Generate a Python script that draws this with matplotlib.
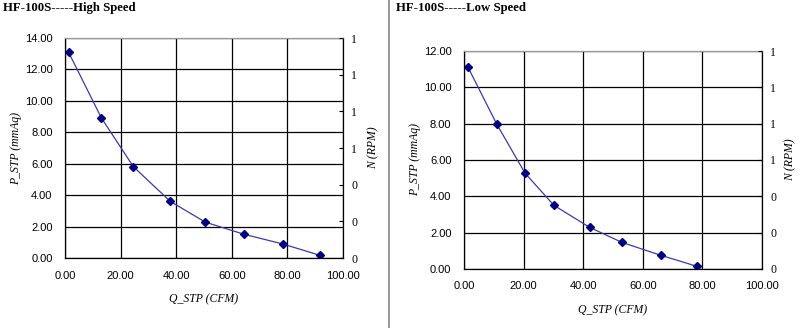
"""
Fan curves for HF-100S: static pressure vs. flow at high and low speed.
"""

import matplotlib
matplotlib.use('Agg')
import matplotlib.pyplot as plt
from matplotlib.lines import Line2D
from matplotlib.ticker import FormatStrFormatter, MultipleLocator

# High speed
high_q = [1.3, 13.1, 24.6, 37.9, 50.5, 64.4, 78.4, 91.7]
high_p = [13.09, 8.91, 5.81, 3.60, 2.28, 1.51, 0.89, 0.17]

# Low speed
low_q = [1.3, 11.0, 20.5, 30.2, 42.2, 52.9, 66.1, 78.1]
low_p = [11.12, 7.97, 5.27, 3.50, 2.29, 1.47, 0.75, 0.15]

titles = ['HF-100S-----High Speed', 'HF-100S-----Low Speed']
p_max = [14, 12]

SERIF = 'Liberation Serif'
SANS = 'Liberation Sans'


def draw_panel(fig, rect, q, p, ymax, n_pad):
    ax = fig.add_axes(rect)
    ax.plot(q, p, '-', color='#3a3ab0', linewidth=0.9)
    ax.plot(q, p, 'D', color='#000080', markersize=4, linestyle='none')

    ax.set_xlim(0, 100)
    ax.set_ylim(0, ymax)
    ax.xaxis.set_major_locator(MultipleLocator(20))
    ax.yaxis.set_major_locator(MultipleLocator(2))
    ax.xaxis.set_major_formatter(FormatStrFormatter('%.2f'))
    ax.yaxis.set_major_formatter(FormatStrFormatter('%.2f'))
    ax.grid(True, color='black', linewidth=0.9)
    ax.tick_params(length=0, labelsize=8, pad=9)
    for lab in ax.get_xticklabels() + ax.get_yticklabels():
        lab.set_fontfamily(SANS)
    for s in ax.spines.values():
        s.set_linewidth(0.9)
    ax.spines['top'].set_color('#999999')

    ax.set_xlabel('Q_STP (CFM)', family=SERIF, style='italic', fontsize=8.5,
                  labelpad=9)
    ax.set_ylabel('P_STP (mmAq)', family=SERIF, style='italic', fontsize=8.5,
                  labelpad=2)

    # secondary axis for speed, left empty like the original sheet
    ax2 = ax.twinx()
    ax2.set_ylim(0, 1.2)
    ax2.yaxis.set_major_locator(MultipleLocator(0.2))
    ax2.yaxis.set_major_formatter(FormatStrFormatter('%.0f'))
    ax2.tick_params(direction='in', length=3, width=0.8, labelsize=8.5, pad=6)
    for lab in ax2.get_yticklabels():
        lab.set_fontfamily(SERIF)
    for s in ax2.spines.values():
        s.set_visible(False)
    ax2.set_ylabel('N (RPM)', family=SERIF, style='italic', fontsize=8.5,
                   rotation=90, labelpad=n_pad)
    return ax


fig = plt.figure(figsize=(8, 3.28), dpi=100)

draw_panel(fig, [0.08125, 0.2134, 0.3475, 0.6707], high_q, high_p, p_max[0], 7)
draw_panel(fig, [0.58, 0.1799, 0.3725, 0.6646], low_q, low_p, p_max[1], 6)

fig.text(0.004, 0.975, titles[0], family=SERIF, weight='bold', fontsize=9.2,
         va='center', ha='left')
fig.text(0.495, 0.975, titles[1], family=SERIF, weight='bold', fontsize=9.2,
         va='center', ha='left')

# divider between the two sheets
fig.add_artist(Line2D([0.4865, 0.4865], [0, 1], color='#888888',
                      linewidth=1.2, transform=fig.transFigure))

plt.savefig('out.png', dpi=100)
plt.close()
